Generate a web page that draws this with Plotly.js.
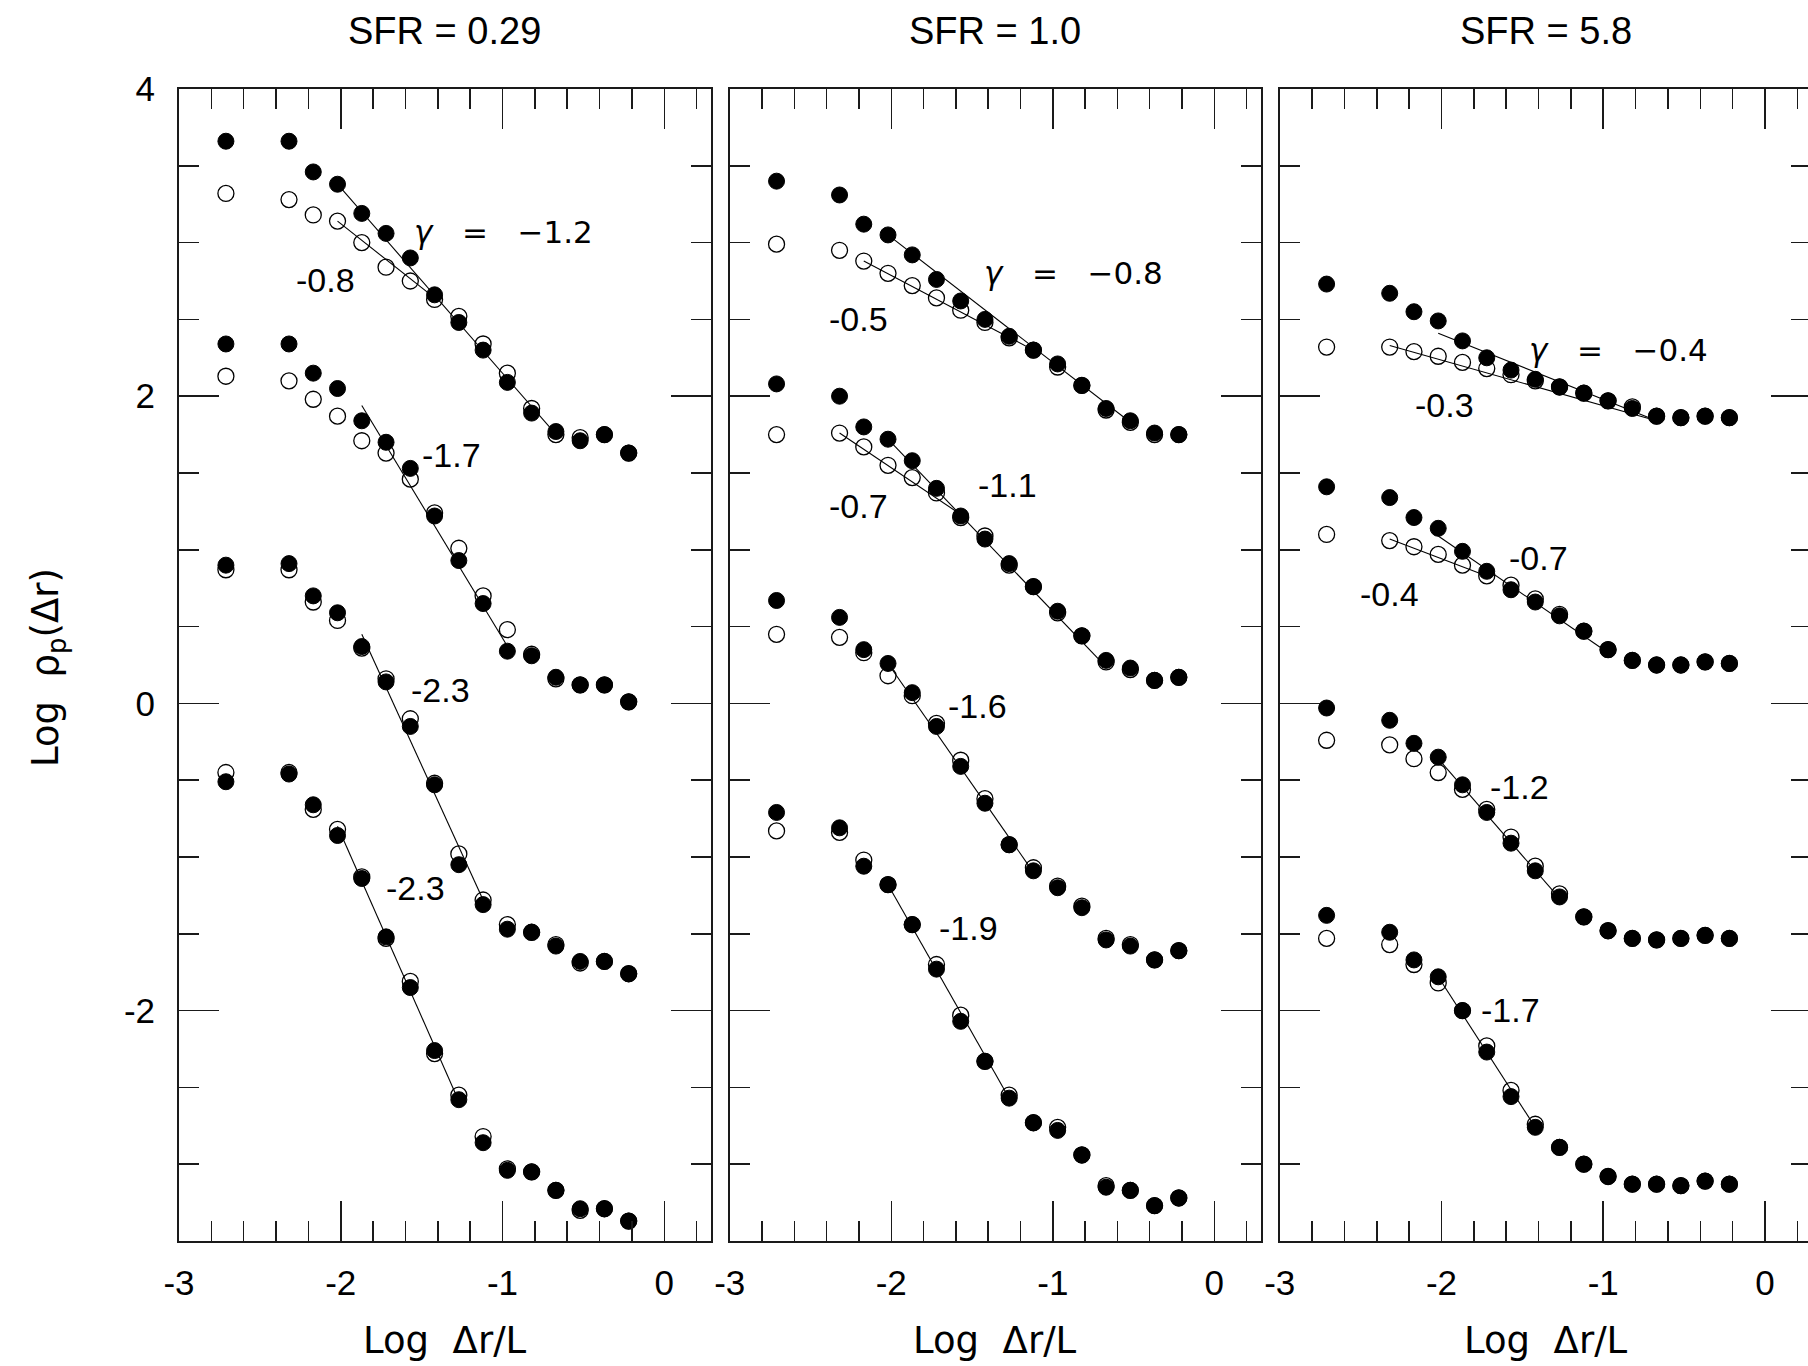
<!DOCTYPE html>
<html>
<head>
<meta charset="utf-8">
<script src="https://cdn.plot.ly/plotly-3.0.1.min.js"></script>
<style>
html,body{margin:0;padding:0;overflow:hidden;background:#fff;}
</style>
</head>
<body>
<div id="chart" style="width:1812px;height:1366px"></div>
<script>
// ---------------- data ----------------
const logDr = [-2.71, -2.32, -2.17, -2.02, -1.87, -1.72, -1.57, -1.42, -1.27, -1.12, -0.97, -0.82, -0.67, -0.52, -0.37, -0.22];

const panelTitles = ['SFR = 0.29', 'SFR = 1.0', 'SFR = 5.8'];
const xTickVals = [-3, -2, -1, 0];
const xTickText = ['-3', '-2', '-1', '0'];
const yTickVals = [-2, 0, 2, 4];
const yTickText = ['-2', '0', '2', '4'];

// SFR = 0.29
const p1A_filled = [3.66, 3.66, 3.46, 3.38, 3.19, 3.06, 2.90, 2.66, 2.48, 2.30, 2.09, 1.89, 1.77, 1.71, 1.75, 1.63];
const p1A_open   = [3.32, 3.28, 3.18, 3.14, 3.00, 2.84, 2.75, 2.63, 2.52, 2.34, 2.15, 1.92, 1.75, 1.73, 1.75, 1.63];
const p1B_filled = [2.34, 2.34, 2.15, 2.05, 1.84, 1.70, 1.53, 1.22, 0.93, 0.65, 0.34, 0.31, 0.17, 0.12, 0.12, 0.01];
const p1B_open   = [2.13, 2.10, 1.98, 1.87, 1.71, 1.63, 1.46, 1.24, 1.01, 0.70, 0.48, 0.32, 0.16, 0.12, 0.12, 0.01];
const p1C_filled = [0.90, 0.91, 0.70, 0.59, 0.37, 0.14, -0.15, -0.53, -1.05, -1.31, -1.47, -1.49, -1.58, -1.68, -1.68, -1.76];
const p1C_open   = [0.87, 0.87, 0.66, 0.54, 0.36, 0.16, -0.10, -0.52, -0.98, -1.28, -1.44, -1.49, -1.57, -1.69, -1.68, -1.76];
const p1D_filled = [-0.51, -0.46, -0.66, -0.86, -1.14, -1.52, -1.85, -2.26, -2.58, -2.86, -3.04, -3.05, -3.17, -3.29, -3.29, -3.37];
const p1D_open   = [-0.45, -0.45, -0.69, -0.82, -1.13, -1.53, -1.81, -2.28, -2.55, -2.82, -3.03, -3.05, -3.17, -3.30, -3.29, -3.37];

// SFR = 1.0
const p2A_filled = [3.40, 3.31, 3.12, 3.05, 2.92, 2.76, 2.62, 2.50, 2.39, 2.30, 2.21, 2.07, 1.92, 1.84, 1.76, 1.75];
const p2A_open   = [2.99, 2.95, 2.88, 2.80, 2.72, 2.64, 2.56, 2.48, 2.38, 2.30, 2.19, 2.07, 1.91, 1.83, 1.75, 1.75];
const p2B_filled = [2.08, 2.00, 1.80, 1.72, 1.58, 1.40, 1.22, 1.07, 0.91, 0.76, 0.60, 0.44, 0.28, 0.23, 0.15, 0.17];
const p2B_open   = [1.75, 1.76, 1.67, 1.55, 1.47, 1.37, 1.21, 1.09, 0.90, 0.76, 0.59, 0.44, 0.27, 0.22, 0.15, 0.17];
const p2C_filled = [0.67, 0.56, 0.35, 0.26, 0.07, -0.15, -0.41, -0.65, -0.92, -1.09, -1.20, -1.33, -1.54, -1.58, -1.67, -1.61];
const p2C_open   = [0.45, 0.43, 0.33, 0.18, 0.05, -0.13, -0.37, -0.62, -0.92, -1.07, -1.19, -1.32, -1.53, -1.57, -1.67, -1.61];
const p2D_filled = [-0.71, -0.81, -1.06, -1.18, -1.44, -1.73, -2.07, -2.33, -2.57, -2.73, -2.78, -2.94, -3.15, -3.17, -3.27, -3.22];
const p2D_open   = [-0.83, -0.84, -1.02, -1.18, -1.44, -1.70, -2.03, -2.33, -2.55, -2.73, -2.76, -2.94, -3.14, -3.17, -3.27, -3.22];

// SFR = 5.8
const p3A_filled = [2.73, 2.67, 2.55, 2.49, 2.36, 2.25, 2.17, 2.11, 2.06, 2.02, 1.97, 1.92, 1.87, 1.86, 1.87, 1.86];
const p3A_open   = [2.32, 2.32, 2.29, 2.26, 2.22, 2.18, 2.14, 2.10, 2.06, 2.02, 1.97, 1.93, 1.87, 1.86, 1.87, 1.86];
const p3B_filled = [1.41, 1.34, 1.21, 1.14, 0.99, 0.86, 0.74, 0.66, 0.57, 0.47, 0.35, 0.28, 0.25, 0.25, 0.27, 0.26];
const p3B_open   = [1.10, 1.06, 1.02, 0.97, 0.90, 0.83, 0.77, 0.68, 0.58, 0.47, 0.35, 0.28, 0.25, 0.25, 0.27, 0.26];
const p3C_filled = [-0.03, -0.11, -0.26, -0.35, -0.53, -0.71, -0.91, -1.09, -1.26, -1.39, -1.48, -1.53, -1.54, -1.53, -1.51, -1.53];
const p3C_open   = [-0.24, -0.27, -0.36, -0.45, -0.56, -0.69, -0.87, -1.06, -1.24, -1.39, -1.48, -1.53, -1.54, -1.53, -1.51, -1.53];
const p3D_filled = [-1.38, -1.49, -1.67, -1.78, -2.00, -2.27, -2.56, -2.76, -2.89, -3.00, -3.08, -3.13, -3.13, -3.14, -3.11, -3.13];
const p3D_open   = [-1.53, -1.57, -1.70, -1.82, -2.00, -2.23, -2.52, -2.74, -2.89, -3.00, -3.08, -3.13, -3.13, -3.14, -3.11, -3.13];

// power-law fit segments (endpoints)
const p1_fitX = [[-2.02, -0.71], [-2.02, -1.42], [-1.87, -0.98], [-1.87, -1.12], [-2.02, -1.27]];
const p1_fitY = [[3.38, 1.80], [3.14, 2.64], [1.94, 0.39], [0.45, -1.28], [-0.80, -2.59]];
const p2_fitX = [[-2.02, -0.52], [-2.17, -1.12], [-2.02, -0.70], [-2.32, -1.57], [-2.02, -1.12], [-2.02, -1.27]];
const p2_fitY = [[3.05, 1.83], [2.88, 2.30], [1.72, 0.27], [1.76, 1.23], [0.26, -1.10], [-1.18, -2.57]];
const p3_fitX = [[-2.02, -0.67], [-2.32, -0.67], [-2.02, -0.97], [-2.32, -1.72], [-2.02, -1.27], [-2.02, -1.42]];
const p3_fitY = [[2.41, 1.84], [2.33, 1.84], [1.09, 0.33], [1.07, 0.83], [-0.36, -1.27], [-1.78, -2.76]];

// slope labels
const p1_labelText = ['γ = −1.2', '-0.8', '-1.7', '-2.3', '-2.3'];
const p1_labelX = [-1.56, -2.29, -1.51, -1.58, -1.735];
const p1_labelY = [3.07, 2.755, 1.62, 0.09, -1.20];
const p2_labelText = ['γ = −0.8', '-0.5', '-1.1', '-0.7', '-1.6', '-1.9'];
const p2_labelX = [-1.44, -2.40, -1.476, -2.40, -1.66, -1.716];
const p2_labelY = [2.80, 2.50, 1.42, 1.285, -0.02, -1.465];
const p3_labelText = ['γ = −0.4', '-0.3', '-0.7', '-0.4', '-1.2', '-1.7'];
const p3_labelX = [-1.47, -2.175, -1.593, -2.516, -1.713, -1.768];
const p3_labelY = [2.30, 1.945, 0.944, 0.71, -0.546, -1.995];

const xTitle = 'Log  Δr/L';
const yTitle = 'Log  ρ<sub>p</sub>(Δr)';

// ---------------- build ----------------
const W = 1812, H = 1366;
const panelPx = [[179, 710.7], [729.7, 1260.7], [1279.7, 1811.4]];
const plotTop = 89, plotBottom = 1241;
const yDomain = [1 - plotBottom / H, 1 - plotTop / H];

const panels = [
  {xa: 'x', ya: 'y', filled: [p1A_filled, p1B_filled, p1C_filled, p1D_filled], open: [p1A_open, p1B_open, p1C_open, p1D_open],
   fitX: p1_fitX, fitY: p1_fitY, lt: p1_labelText, lx: p1_labelX, ly: p1_labelY},
  {xa: 'x2', ya: 'y2', filled: [p2A_filled, p2B_filled, p2C_filled, p2D_filled], open: [p2A_open, p2B_open, p2C_open, p2D_open],
   fitX: p2_fitX, fitY: p2_fitY, lt: p2_labelText, lx: p2_labelX, ly: p2_labelY},
  {xa: 'x3', ya: 'y3', filled: [p3A_filled, p3B_filled, p3C_filled, p3D_filled], open: [p3A_open, p3B_open, p3C_open, p3D_open],
   fitX: p3_fitX, fitY: p3_fitY, lt: p3_labelText, lx: p3_labelX, ly: p3_labelY}
];

const INK = '#1a1a1a';
const sansFont = 'Liberation Sans, Arial, Helvetica, sans-serif';
const thinFont = 'DejaVu Sans, sans-serif';
const NB = '\u00a0';

const traces = [];
const annotations = [];
const layout = {
  width: W, height: H,
  margin: {l: 0, r: 0, t: 0, b: 0, pad: 0},
  paper_bgcolor: '#ffffff', plot_bgcolor: '#ffffff',
  showlegend: false,
  annotations: annotations
};

panels.forEach((p, i) => {
  // open circles first (underneath)
  p.open.forEach(ys => traces.push({
    type: 'scatter', mode: 'markers', x: logDr, y: ys, xaxis: p.xa, yaxis: p.ya,
    marker: {symbol: 'circle-open', size: 16, color: '#000', line: {width: 1.3}},
    hoverinfo: 'skip'
  }));
  p.filled.forEach(ys => traces.push({
    type: 'scatter', mode: 'markers', x: logDr, y: ys, xaxis: p.xa, yaxis: p.ya,
    marker: {symbol: 'circle', size: 16, color: '#000', line: {width: 1, color: '#000'}},
    hoverinfo: 'skip'
  }));
  p.fitX.forEach((fx, k) => traces.push({
    type: 'scatter', mode: 'lines', x: fx, y: p.fitY[k], xaxis: p.xa, yaxis: p.ya,
    line: {color: '#000', width: 1.1}, hoverinfo: 'skip'
  }));

  const suffix = i === 0 ? '' : String(i + 1);
  const dom = [panelPx[i][0] / W, panelPx[i][1] / W];
  layout['xaxis' + suffix] = {
    domain: dom, anchor: 'y' + suffix, range: [-3, 0.287],
    tickmode: 'array', tickvals: xTickVals, ticktext: xTickText,
    ticks: 'inside', ticklen: 40, tickwidth: 1.5, tickcolor: INK,
    showline: true, linewidth: 2, linecolor: INK, mirror: 'ticks',
    showgrid: false, zeroline: false,
    minor: {tickmode: 'linear', tick0: -3, dtick: 0.2, ticks: 'inside', ticklen: 20, tickwidth: 1.5, tickcolor: INK, showgrid: false},
    tickfont: {family: sansFont, size: 35, color: '#000'},
    ticklabelstandoff: 10,
    fixedrange: true
  };
  layout['yaxis' + suffix] = {
    domain: yDomain, anchor: 'x' + suffix, range: [-3.5, 4],
    tickmode: 'array', tickvals: yTickVals, ticktext: yTickText,
    ticks: 'inside', ticklen: 40, tickwidth: 1.5, tickcolor: INK,
    showline: true, linewidth: 2, linecolor: INK, mirror: 'ticks',
    showgrid: false, zeroline: false,
    showticklabels: i === 0,
    minor: {tickmode: 'linear', tick0: -3.5, dtick: 0.5, ticks: 'inside', ticklen: 20, tickwidth: 1.5, tickcolor: INK, showgrid: false},
    tickfont: {family: sansFont, size: 35, color: '#000'},
    ticklabelstandoff: 15,
    fixedrange: true
  };

  // panel title
  const cx = (panelPx[i][0] + panelPx[i][1]) / 2 / W;
  annotations.push({
    xref: 'paper', yref: 'paper', x: cx, y: 1 - 31 / H, xanchor: 'center', yanchor: 'middle',
    text: panelTitles[i], showarrow: false,
    font: {family: sansFont, size: 38, color: '#000'}
  });
  // x axis title
  annotations.push({
    xref: 'paper', yref: 'paper', x: cx, y: 1 - 1340 / H, xanchor: 'center', yanchor: 'middle',
    text: xTitle.replace(/ /g, NB), showarrow: false,
    font: {family: thinFont, size: 37, color: '#000'}
  });
  // slope labels
  p.lt.forEach((t, k) => {
    const isGamma = t.charAt(0) === 'γ';
    const txt = isGamma ? '<i>γ</i>' + t.slice(1).replace(/ /g, NB + NB + NB) : t;
    annotations.push({
      xref: p.xa, yref: p.ya, x: p.lx[k], y: p.ly[k], xanchor: 'left', yanchor: 'middle',
      text: txt, showarrow: false,
      font: isGamma ? {family: thinFont, size: 31, color: '#000'}
                    : {family: sansFont, size: 34, color: '#000'}
    });
  });
});

// y axis title
annotations.push({
  xref: 'paper', yref: 'paper', x: 48 / W, y: 1 - 668 / H, xanchor: 'center', yanchor: 'middle',
  text: yTitle.replace(/ /g, NB), textangle: -90, showarrow: false,
  font: {family: thinFont, size: 37, color: '#000'}
});

Plotly.newPlot('chart', traces, layout, {displayModeBar: false, staticPlot: true});
</script>
</body>
</html>
